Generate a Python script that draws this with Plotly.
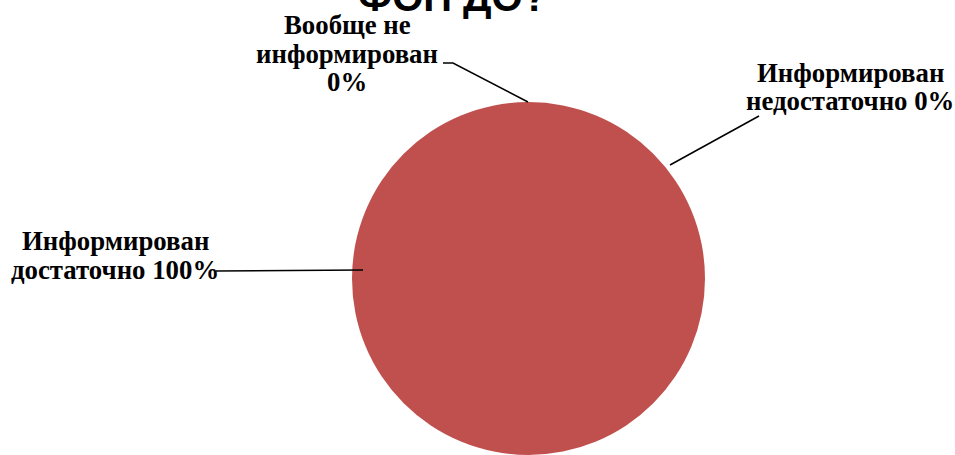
import plotly.graph_objects as go

categories = ["Информирован достаточно", "Информирован недостаточно", "Вообще не информирован"]
values = [100, 0, 0]
label_lines = [
    ["Информирован", "достаточно 100%"],
    ["Информирован", "недостаточно 0%"],
    ["Вообще не", "информирован", "0%"],
]
title_text = "ФОП ДО?"

W, H = 955, 455

def px(x):
    return x / W

def py(y):
    return 1 - y / H

fig = go.Figure()
fig.add_trace(go.Pie(
    labels=categories,
    values=values,
    marker=dict(colors=["#C0504D", "#4F81BD", "#9BBB59"], line=dict(width=0)),
    textinfo="none",
    hoverinfo="label+percent",
    sort=False,
    direction="clockwise",
    domain=dict(x=[px(351), px(706)], y=[0, py(102)]),
    showlegend=False,
))

label_font = dict(family="Liberation Serif", size=26.8, color="black")
# (center x, first line center y, line step) in pixels
label_pos = [(115, 241, 29), (850, 73, 28), (347, 25, 28.5)]
annotations = []
for (x, y0, step), lines in zip(label_pos, label_lines):
    for i, t in enumerate(lines):
        annotations.append(dict(
            x=px(x), y=py(y0 + i * step), xref="paper", yref="paper",
            text="<b>" + t + "</b>", showarrow=False,
            xanchor="center", yanchor="middle", align="center",
            font=label_font,
        ))
annotations.append(dict(
    x=px(452), y=py(-3), xref="paper", yref="paper",
    text="<b>" + title_text + "</b>", showarrow=False,
    xanchor="center", yanchor="middle",
    font=dict(family="Liberation Sans", size=40, color="black"),
))

line_style = dict(color="black", width=1.5)
shapes = [
    dict(type="path", xref="paper", yref="paper",
         path=f"M {px(216)} {py(271)} L {px(363)} {py(270)}", line=line_style),
    dict(type="path", xref="paper", yref="paper",
         path=f"M {px(759)} {py(116)} L {px(670)} {py(165)}", line=line_style),
    dict(type="path", xref="paper", yref="paper",
         path=f"M {px(443)} {py(63)} L {px(453)} {py(63)} L {px(528)} {py(102)}", line=line_style),
]

fig.update_layout(
    width=W, height=H,
    margin=dict(l=0, r=0, t=0, b=0),
    paper_bgcolor="white",
    plot_bgcolor="white",
    annotations=annotations,
    shapes=shapes,
)

fig.write_html("out.html", config={"displayModeBar": False},
               post_script="document.body.style.margin='0';")
